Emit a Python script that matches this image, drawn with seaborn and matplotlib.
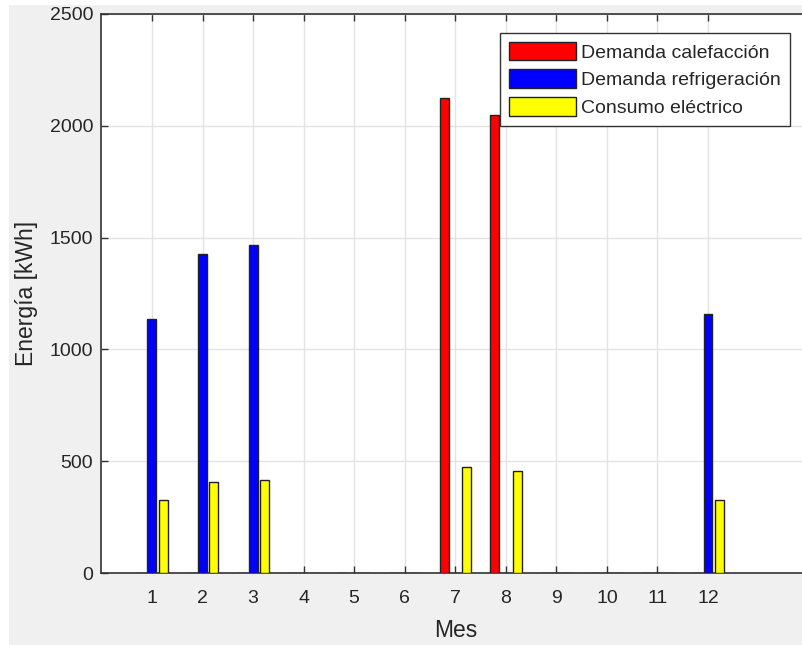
import matplotlib
matplotlib.use("Agg")
import matplotlib.pyplot as plt
import matplotlib.patches as mpatches
import seaborn as sns
import pandas as pd

meses = list(range(1, 13))
calefaccion = [0, 0, 0, 0, 0, 0, 2125, 2050, 0, 0, 0, 0]
refrigeracion = [1135, 1428, 1468, 0, 0, 0, 0, 0, 0, 0, 0, 1158]
consumo = [328, 408, 414, 0, 0, 0, 472, 458, 0, 0, 0, 328]
series = ["Demanda calefacción", "Demanda refrigeración", "Consumo eléctrico"]
colores = ["#ff0000", "#0000ff", "#ffff00"]

df = pd.DataFrame({
    "Mes": meses * 3,
    "Energia": calefaccion + refrigeracion + consumo,
    "Serie": [series[0]] * 12 + [series[1]] * 12 + [series[2]] * 12,
})

sns.set_theme(style="white")
plt.rcParams["font.family"] = ["Liberation Sans", "DejaVu Sans"]

txt = "#262626"
fig = plt.figure(figsize=(8.02, 6.45), dpi=100)
fig.patch.set_facecolor("#f0f0f0")
ax = fig.add_axes([101.4 / 802, 72 / 645, 707.7 / 802, 559 / 645])
ax.set_facecolor("white")

sns.barplot(data=df, x="Mes", y="Energia", hue="Serie", hue_order=series,
            palette=colores, native_scale=True, width=0.667, gap=0.2,
            edgecolor="#222222", linewidth=1.0, saturation=1, legend=False,
            errorbar=None, ax=ax, zorder=3)

ax.set_xlim(0, 14)
ax.set_ylim(0, 2500)
ax.set_xticks(meses)
ax.set_xticklabels([str(m) for m in meses])
ax.set_yticks([0, 500, 1000, 1500, 2000, 2500])
ax.grid(True, color="#e3e3e3", linewidth=1.0, zorder=0)
ax.set_axisbelow(True)
ax.tick_params(axis="x", direction="in", length=5, width=1, colors="#333333",
               labelcolor=txt, labelsize=14, pad=12, top=True, bottom=True)
ax.tick_params(axis="y", direction="in", length=5, width=1, colors="#333333",
               labelcolor=txt, labelsize=14, pad=6, left=True, right=True)
for s in ax.spines.values():
    s.set_color("#333333")
    s.set_linewidth(1.2)

ax.set_xlabel("Mes", fontsize=16.5, color=txt, labelpad=9)
ax.set_ylabel("Energía [kWh]", fontsize=16.5, color=txt, labelpad=8)

handles = [mpatches.Patch(facecolor=c, edgecolor="#222222", linewidth=1.0) for c in colores]
leg = ax.legend(handles, series, loc="upper right", bbox_to_anchor=(0.973, 0.966),
                borderaxespad=0, fontsize=14, handlelength=3.45, handleheight=1.1,
                handletextpad=0.3, labelspacing=0.4, borderpad=0.45,
                frameon=True, fancybox=False, framealpha=1)
leg.get_frame().set_edgecolor("#333333")
leg.get_frame().set_linewidth(1.0)
for t in leg.get_texts():
    t.set_color(txt)

# white borders of the original screenshot
fig.patches.append(mpatches.Rectangle((0, 0), 9 / 802, 1, transform=fig.transFigure,
                                      facecolor="white", edgecolor="none", zorder=10))
fig.patches.append(mpatches.Rectangle((0, 1 - 5 / 645), 1, 5 / 645, transform=fig.transFigure,
                                      facecolor="white", edgecolor="none", zorder=10))

fig.savefig("out.png", dpi=100, facecolor=fig.get_facecolor())
